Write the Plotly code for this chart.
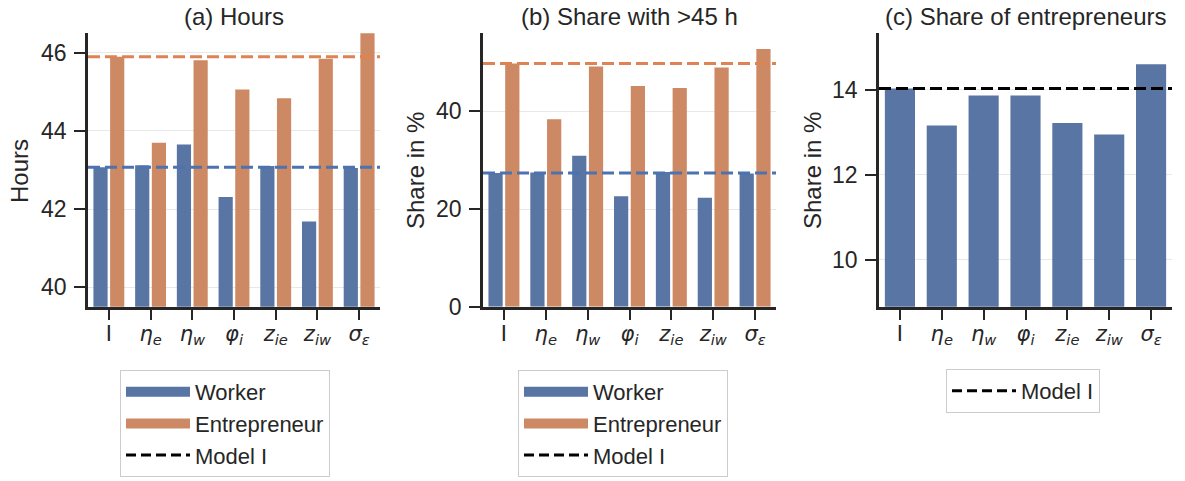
import plotly.graph_objects as go

# Counterfactual labels (model I plus one parameter switched off at a time)
categories = [
    "I",
    "<i>η</i><sub><i>e</i></sub>",
    "<i>η</i><sub><i>w</i></sub>",
    "<i>φ</i><sub><i>i</i></sub>",
    "<i>z</i><sub><i>ie</i></sub>",
    "<i>z</i><sub><i>iw</i></sub>",
    "<i>σ</i><sub><i>ε</i></sub>",
]

# (a) average weekly hours
hours_worker = [43.07, 43.12, 43.65, 42.31, 43.10, 41.68, 43.05]
hours_entrepreneur = [45.90, 43.70, 45.81, 45.06, 44.84, 45.85, 46.60]

# (b) share working more than 45 hours, in %
long_worker = [27.4, 27.5, 30.9, 22.6, 27.6, 22.3, 27.3]
long_entrepreneur = [49.8, 38.4, 49.2, 45.2, 44.8, 49.0, 52.8]

# (c) share of entrepreneurs, in %
entrepreneur_share = [14.03, 13.16, 13.87, 13.87, 13.22, 12.95, 14.60]

hours_ticks = [40, 42, 44, 46]
long_ticks = [0, 20, 40]
share_ticks = [10, 12, 14]

W, H = 1185, 481
FONT = "Liberation Sans, Arial, Helvetica, sans-serif"
MATH_FONT = "DejaVu Sans, sans-serif"
TEXT = "#262626"
BLUE_BAR, ORANGE_BAR = "#5975a4", "#cc8963"
BLUE_LINE, ORANGE_LINE = "#4c72b0", "#dd8452"
GRID = "#e8e8e8"


def fx(p):
    return p / W


def fy(p):
    return 1 - p / H


y_dom = [fy(306.7), fy(33.3)]
x_doms = [[fx(88), fx(380)], [fx(483), fx(776)], [fx(879), fx(1172)]]

fig = go.Figure()

# grouped bars for panels (a) and (b)
for ax, worker, entre in (("", hours_worker, hours_entrepreneur),
                          ("2", long_worker, long_entrepreneur)):
    fig.add_trace(go.Bar(x=categories, y=worker, width=0.34, offset=-0.37,
                         marker=dict(color=BLUE_BAR, line=dict(width=0)),
                         xaxis="x" + ax, yaxis="y" + ax, showlegend=False))
    fig.add_trace(go.Bar(x=categories, y=entre, width=0.34, offset=0.03,
                         marker=dict(color=ORANGE_BAR, line=dict(width=0)),
                         xaxis="x" + ax, yaxis="y" + ax, showlegend=False))

# single bars for panel (c)
fig.add_trace(go.Bar(x=categories, y=entrepreneur_share, width=0.72, offset=-0.36,
                     marker=dict(color=BLUE_BAR, line=dict(width=0)),
                     xaxis="x3", yaxis="y3", showlegend=False))

# model I reference levels
ref_lines = [
    ("y", hours_worker[0], BLUE_LINE),
    ("y", hours_entrepreneur[0], ORANGE_LINE),
    ("y2", long_worker[0], BLUE_LINE),
    ("y2", long_entrepreneur[0], ORANGE_LINE),
    ("y3", entrepreneur_share[0], "black"),
]
for yref, val, col in ref_lines:
    xref = "x" if yref == "y" else "x" + yref[1:]
    fig.add_shape(type="line", xref=xref + " domain", yref=yref,
                  x0=0, x1=1, y0=val, y1=val,
                  line=dict(color=col, width=3, dash="12px,5px"), layer="above")

# legend entries
for leg, ax in (("legend", ""), ("legend2", "2")):
    fig.add_trace(go.Scatter(x=[None], y=[None], mode="lines", name="Worker",
                             line=dict(color=BLUE_BAR, width=10),
                             xaxis="x" + ax, yaxis="y" + ax, legend=leg))
    fig.add_trace(go.Scatter(x=[None], y=[None], mode="lines", name="Entrepreneur",
                             line=dict(color=ORANGE_BAR, width=10),
                             xaxis="x" + ax, yaxis="y" + ax, legend=leg))
    fig.add_trace(go.Scatter(x=[None], y=[None], mode="lines", name="Model I",
                             line=dict(color="black", width=3, dash="10px,5px"),
                             xaxis="x" + ax, yaxis="y" + ax, legend=leg))
fig.add_trace(go.Scatter(x=[None], y=[None], mode="lines", name="Model I",
                         line=dict(color="black", width=3, dash="10px,5px"),
                         xaxis="x3", yaxis="y3", legend="legend3"))

xaxis_style = dict(type="category", range=[-0.5, 6.5], showline=True,
                   linecolor=TEXT, linewidth=2.5, ticks="outside", ticklen=11,
                   tickwidth=2, tickcolor=TEXT, showgrid=False, zeroline=False,
                   tickfont=dict(family=MATH_FONT, size=21, color=TEXT),
                   ticklabelstandoff=-5, automargin=False)
yaxis_style = dict(showline=True, linecolor=TEXT, linewidth=2.5, ticks="outside",
                   ticklen=11, tickwidth=2, tickcolor=TEXT, showgrid=True,
                   gridcolor=GRID, gridwidth=1.3, zeroline=False,
                   tickfont=dict(family=FONT, size=23, color=TEXT),
                   ticklabelstandoff=3, automargin=False)

legend_style = dict(xanchor="left", yanchor="top", bgcolor="white",
                    bordercolor="#cccccc", borderwidth=1, itemwidth=64,
                    font=dict(family=FONT, size=22, color=TEXT))

fig.update_layout(
    width=W, height=H, margin=dict(l=0, r=0, t=0, b=0, autoexpand=False),
    paper_bgcolor="white", plot_bgcolor="white", barmode="overlay",
    font=dict(family=FONT, color=TEXT),
    xaxis=dict(domain=x_doms[0], anchor="y", **xaxis_style),
    xaxis2=dict(domain=x_doms[1], anchor="y2", **xaxis_style),
    xaxis3=dict(domain=x_doms[2], anchor="y3", **xaxis_style),
    yaxis=dict(domain=y_dom, anchor="x", range=[39.5, 46.5], tickvals=hours_ticks,
               **yaxis_style),
    yaxis2=dict(domain=y_dom, anchor="x2", range=[0, 56], tickvals=long_ticks,
                **yaxis_style),
    yaxis3=dict(domain=y_dom, anchor="x3", range=[8.9, 15.33], tickvals=share_ticks,
                **yaxis_style),
    legend=dict(x=fx(120), y=fy(370), **legend_style),
    legend2=dict(x=fx(518), y=fy(370), **legend_style),
    legend3=dict(x=fx(946), y=fy(369), **legend_style),
)

# panel titles
titles = ["(a) Hours", "(b) Share with >45 h", "(c) Share of entrepreneurs"]
for dom, t in zip(x_doms, titles):
    fig.add_annotation(text=t, xref="paper", yref="paper", x=(dom[0] + dom[1]) / 2,
                       y=fy(17), xanchor="center", yanchor="middle", showarrow=False,
                       font=dict(family=FONT, size=24, color=TEXT))

# y-axis labels
for xc, t in ((19, "Hours"), (415, "Share in %"), (812, "Share in %")):
    fig.add_annotation(text=t, xref="paper", yref="paper", x=fx(xc), y=fy(171),
                       xanchor="center", yanchor="middle", textangle=-90,
                       showarrow=False, font=dict(family=FONT, size=24, color=TEXT))

fig.write_html("out.html")
